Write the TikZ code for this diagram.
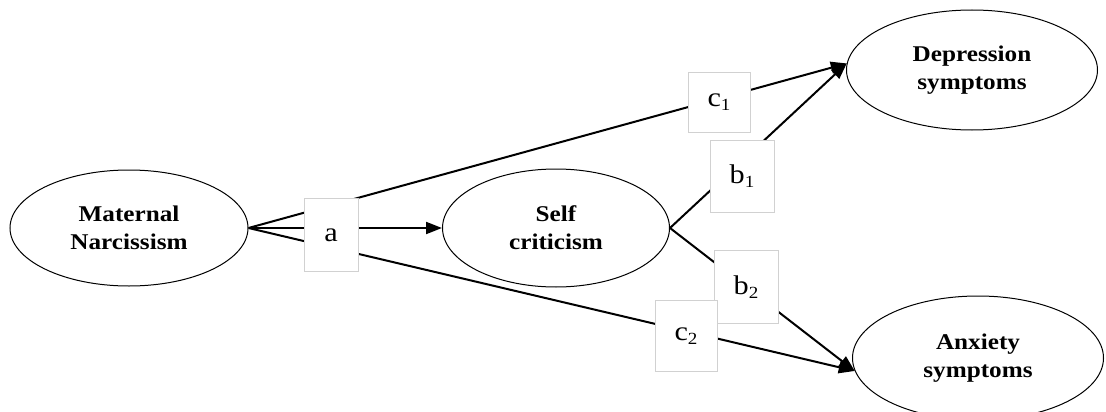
\documentclass[tikz,border=0pt]{standalone}
\usepackage{fontspec}
\setmainfont{Liberation Serif}[FakeStretch=1.12]
\usetikzlibrary{shapes.geometric,arrows.meta}
\newcommand{\lsub}[1]{\raisebox{-0.3ex}{\fontsize{17}{17}\selectfont #1}}

\begin{document}
\begin{tikzpicture}[
  x=1pt, y=-1pt,
  var/.style={draw, ellipse, line width=1pt, inner sep=0pt, align=center,
    font=\bfseries\fontsize{22.5}{28}\selectfont},
  path/.style={line width=2pt},
  arr/.style={path, -{Triangle[length=16pt,width=12pt]}},
  coef/.style={draw=black!18, fill=white, line width=0.6pt, inner sep=0pt,
    font=\fontsize{27}{30}\selectfont}
  ]
\useasboundingbox (0,0) rectangle (1106,412);
\node[var, minimum width=238pt, minimum height=116pt] (MN) at (129,228) {Maternal\\Narcissism};
\node[var, minimum width=227pt, minimum height=118pt] (SC) at (556,228) {Self\\criticism};
\node[var, minimum width=251pt, minimum height=120pt] (DS) at (972,70) {Depression\\symptoms};
\node[var, minimum width=251pt, minimum height=124pt] (AS) at (978,358) {Anxiety\\symptoms};
% paths
\draw[arr] (MN.east) -- (SC.west);
\draw[arr] (MN.east) -- (DS.177);
\draw[arr] (MN.east) -- (AS.186);
\draw[arr] (SC.east) -- (DS.177);
\draw[arr] (SC.east) -- (AS.186);
% coefficients
\node[coef, minimum width=54pt, minimum height=73pt] (a) at (331,235) {a};
\node[coef, minimum width=62pt, minimum height=60pt] (c1) at (719,102) {c\lsub{1}};
\node[coef, minimum width=64pt, minimum height=72pt] (b1) at (742,176) {b\lsub{1}};
\node[coef, minimum width=64pt, minimum height=73pt] (b2) at (746,287) {b\lsub{2}};
\node[coef, minimum width=62pt, minimum height=71pt] (c2) at (686,336) {c\lsub{2}};
\end{tikzpicture}
\end{document}
